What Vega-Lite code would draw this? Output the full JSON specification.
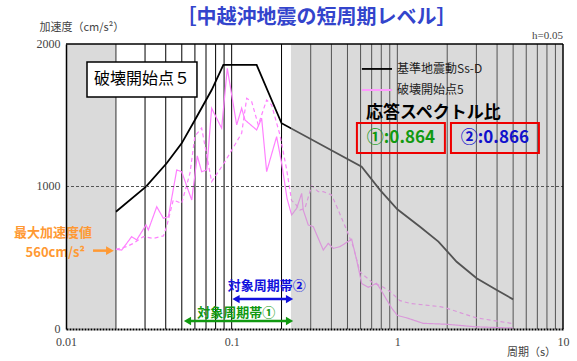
{
  "$schema": "https://vega.github.io/schema/vega-lite/v6.json",
  "width": 497,
  "height": 285,
  "autosize": "none",
  "padding": {"left": 66, "top": 44, "right": 14, "bottom": 32},
  "background": "white",
  "title": {"text": "［中越沖地震の短周期レベル］", "font": "Noto Sans CJK JP", "fontSize": 20, "fontWeight": "bold", "color": "#3344cc", "anchor": "middle", "frame": "group", "offset": -7, "dx": 2},
  "config": {"view": {"stroke": null}, "font": "Noto Sans CJK JP"},
  "data": {"values": [{"one": 1}]},
  "datasets": {
    "grid": [
      {"T": 0.02}, {"T": 0.03}, {"T": 0.04}, {"T": 0.05}, {"T": 0.06}, {"T": 0.07}, {"T": 0.08}, {"T": 0.09}, {"T": 0.1},
      {"T": 0.2}, {"T": 0.3}, {"T": 0.4}, {"T": 0.5}, {"T": 0.6}, {"T": 0.7}, {"T": 0.8}, {"T": 0.9}, {"T": 1},
      {"T": 2}, {"T": 3}, {"T": 4}, {"T": 5}, {"T": 6}, {"T": 7}, {"T": 8}, {"T": 9}
    ],
    "bands": [
      {"from": 0.01, "to": 0.02},
      {"from": 0.228, "to": 10}
    ],
    "spectra": [
      {"T": 0.02, "acc": 823, "comp": "Ss-D"}, {"T": 0.0304, "acc": 999, "comp": "Ss-D"}, {"T": 0.0405, "acc": 1163, "comp": "Ss-D"}, {"T": 0.0499, "acc": 1303, "comp": "Ss-D"}, {"T": 0.06, "acc": 1467, "comp": "Ss-D"}, {"T": 0.0757, "acc": 1677, "comp": "Ss-D"}, {"T": 0.0891, "acc": 1853, "comp": "Ss-D"}, {"T": 0.1415, "acc": 1853, "comp": "Ss-D"}, {"T": 0.2, "acc": 1444, "comp": "Ss-D"}, {"T": 0.609, "acc": 1139, "comp": "Ss-D"}, {"T": 0.785, "acc": 976, "comp": "Ss-D"}, {"T": 1.0, "acc": 840, "comp": "Ss-D"}, {"T": 1.37, "acc": 718, "comp": "Ss-D"}, {"T": 1.77, "acc": 613, "comp": "Ss-D"}, {"T": 2.28, "acc": 472, "comp": "Ss-D"}, {"T": 3.01, "acc": 356, "comp": "Ss-D"}, {"T": 3.98, "acc": 274, "comp": "Ss-D"}, {"T": 5.0, "acc": 208, "comp": "Ss-D"},

      {"T": 0.02, "acc": 559, "comp": "NS"}, {"T": 0.0217, "acc": 554, "comp": "NS"}, {"T": 0.0249, "acc": 648, "comp": "NS"}, {"T": 0.0267, "acc": 625, "comp": "NS"}, {"T": 0.0304, "acc": 730, "comp": "NS"}, {"T": 0.0314, "acc": 695, "comp": "NS"}, {"T": 0.0353, "acc": 858, "comp": "NS"}, {"T": 0.0387, "acc": 777, "comp": "NS"}, {"T": 0.0415, "acc": 788, "comp": "NS"}, {"T": 0.0466, "acc": 1116, "comp": "NS"}, {"T": 0.0499, "acc": 1104, "comp": "NS"}, {"T": 0.0574, "acc": 905, "comp": "NS"}, {"T": 0.062, "acc": 1215, "comp": "NS"}, {"T": 0.0659, "acc": 1104, "comp": "NS"}, {"T": 0.0707, "acc": 1116, "comp": "NS"}, {"T": 0.0757, "acc": 1549, "comp": "NS"}, {"T": 0.087, "acc": 1409, "comp": "NS"}, {"T": 0.0941, "acc": 1830, "comp": "NS"}, {"T": 0.1072, "acc": 1432, "comp": "NS"}, {"T": 0.1149, "acc": 1549, "comp": "NS"}, {"T": 0.1203, "acc": 1467, "comp": "NS"}, {"T": 0.1415, "acc": 1397, "comp": "NS"}, {"T": 0.1517, "acc": 1479, "comp": "NS"}, {"T": 0.1626, "acc": 1104, "comp": "NS"}, {"T": 0.1868, "acc": 1350, "comp": "NS"}, {"T": 0.2003, "acc": 1163, "comp": "NS"}, {"T": 0.216, "acc": 915, "comp": "NS"}, {"T": 0.2301, "acc": 800, "comp": "NS"}, {"T": 0.2468, "acc": 847, "comp": "NS"}, {"T": 0.2646, "acc": 952, "comp": "NS"}, {"T": 0.2704, "acc": 835, "comp": "NS"}, {"T": 0.2899, "acc": 730, "comp": "NS"}, {"T": 0.3109, "acc": 718, "comp": "NS"}, {"T": 0.3572, "acc": 554, "comp": "NS"}, {"T": 0.3828, "acc": 601, "comp": "NS"}, {"T": 0.4104, "acc": 566, "comp": "NS"}, {"T": 0.4505, "acc": 578, "comp": "NS"}, {"T": 0.53, "acc": 630, "comp": "NS"}, {"T": 0.5682, "acc": 484, "comp": "NS"}, {"T": 0.609, "acc": 320, "comp": "NS"}, {"T": 0.6675, "acc": 293, "comp": "NS"}, {"T": 0.7502, "acc": 321, "comp": "NS"}, {"T": 0.785, "acc": 286, "comp": "NS"}, {"T": 0.92, "acc": 150, "comp": "NS"}, {"T": 1.0, "acc": 95, "comp": "NS"}, {"T": 1.14, "acc": 78, "comp": "NS"}, {"T": 1.43, "acc": 40, "comp": "NS"}, {"T": 2.0, "acc": 33, "comp": "NS"}, {"T": 3.0, "acc": 15, "comp": "NS"}, {"T": 5.0, "acc": 7, "comp": "NS"},

      {"T": 0.02, "acc": 559, "comp": "EW"}, {"T": 0.0232, "acc": 578, "comp": "EW"}, {"T": 0.0255, "acc": 601, "comp": "EW"}, {"T": 0.0293, "acc": 648, "comp": "EW"}, {"T": 0.0336, "acc": 636, "comp": "EW"}, {"T": 0.0387, "acc": 653, "comp": "EW"}, {"T": 0.0405, "acc": 718, "comp": "EW"}, {"T": 0.0444, "acc": 905, "comp": "EW"}, {"T": 0.0499, "acc": 882, "comp": "EW"}, {"T": 0.056, "acc": 1093, "comp": "EW"}, {"T": 0.06, "acc": 1355, "comp": "EW"}, {"T": 0.0659, "acc": 1410, "comp": "EW"}, {"T": 0.0757, "acc": 1034, "comp": "EW"}, {"T": 0.0911, "acc": 1174, "comp": "EW"}, {"T": 0.1149, "acc": 1374, "comp": "EW"}, {"T": 0.1232, "acc": 1619, "comp": "EW"}, {"T": 0.1321, "acc": 1595, "comp": "EW"}, {"T": 0.1447, "acc": 1432, "comp": "EW"}, {"T": 0.1626, "acc": 1607, "comp": "EW"}, {"T": 0.1743, "acc": 1572, "comp": "EW"}, {"T": 0.1956, "acc": 1362, "comp": "EW"}, {"T": 0.2147, "acc": 1120, "comp": "EW"}, {"T": 0.2301, "acc": 900, "comp": "EW"}, {"T": 0.241, "acc": 882, "comp": "EW"}, {"T": 0.2584, "acc": 835, "comp": "EW"}, {"T": 0.2769, "acc": 847, "comp": "EW"}, {"T": 0.304, "acc": 1005, "comp": "EW"}, {"T": 0.3332, "acc": 964, "comp": "EW"}, {"T": 0.3572, "acc": 964, "comp": "EW"}, {"T": 0.4013, "acc": 940, "comp": "EW"}, {"T": 0.4398, "acc": 835, "comp": "EW"}, {"T": 0.4943, "acc": 695, "comp": "EW"}, {"T": 0.5418, "acc": 578, "comp": "EW"}, {"T": 0.5948, "acc": 400, "comp": "EW"}, {"T": 0.7155, "acc": 321, "comp": "EW"}, {"T": 0.804, "acc": 300, "comp": "EW"}, {"T": 0.9, "acc": 265, "comp": "EW"}, {"T": 1.037, "acc": 199, "comp": "EW"}, {"T": 1.191, "acc": 180, "comp": "EW"}, {"T": 1.81, "acc": 157, "comp": "EW"}, {"T": 2.0, "acc": 145, "comp": "EW"}, {"T": 2.39, "acc": 115, "comp": "EW"}, {"T": 3.0, "acc": 78, "comp": "EW"}, {"T": 5.0, "acc": 38, "comp": "EW"}
    ]
  },
  "layer": [
    {
      "data": {"name": "grid"},
      "mark": {"type": "rule", "color": "#000000", "strokeWidth": 1},
      "encoding": {
        "x": {"field": "T", "type": "quantitative", "scale": {"type": "log", "domain": [0.01, 10]},
          "axis": {"values": [0.01, 0.1, 1, 10], "format": "~g", "ticks": false, "grid": false, "domain": true, "domainColor": "#000000", "domainWidth": 2, "domainDash": [2, 1], "labelFont": "Liberation Serif", "labelFontSize": 12, "labelColor": "#444444", "labelPadding": 7, "labelFlush": false, "labelOverlap": false, "zindex": 1,
            "title": "周期（s）", "titleFont": "Noto Sans CJK JP", "titleFontSize": 11, "titleFontWeight": "normal", "titleColor": "#444444", "titleX": 465, "titleY": 23, "titleAlign": "center", "titleBaseline": "middle"}},
        "y": {"datum": 0, "scale": {"domain": [0, 2000], "nice": false},
          "axis": {"values": [0, 1000, 2000], "format": "d", "ticks": false, "grid": false, "domainColor": "#000000", "domainWidth": 1.5, "labelFont": "Liberation Serif", "labelFontSize": 12, "labelColor": "#444444", "labelPadding": 6, "labelOffset": -1, "zindex": 1,
            "title": "加速度（cm/s²）", "titleFont": "Noto Sans CJK JP", "titleFontSize": 11, "titleFontWeight": "normal", "titleColor": "#444444", "titleAngle": 0, "titleX": -27, "titleY": -17, "titleAlign": "left", "titleBaseline": "middle"}},
        "y2": {"datum": 2000}
      }
    },
    {
      "data": {"name": "spectra"},
      "transform": [{"filter": "datum.comp !== 'Ss-D'"}],
      "mark": {"type": "line", "color": "#ff80ff", "strokeWidth": 1.2},
      "encoding": {
        "x": {"field": "T", "type": "quantitative"},
        "y": {"field": "acc", "type": "quantitative"},
        "strokeDash": {"field": "comp", "type": "nominal", "scale": {"domain": ["NS", "EW"], "range": [[1, 0], [4, 3]]}, "legend": null}
      }
    },
    {
      "data": {"name": "spectra"},
      "transform": [{"filter": "datum.comp === 'Ss-D'"}],
      "mark": {"type": "line", "color": "#000000", "strokeWidth": 1.8},
      "encoding": {
        "x": {"field": "T", "type": "quantitative"},
        "y": {"field": "acc", "type": "quantitative"}
      }
    },
    {
      "data": {"name": "bands"},
      "mark": {"type": "rect", "color": "#b0b0b0", "opacity": 0.47},
      "encoding": {
        "x": {"field": "from", "type": "quantitative"},
        "x2": {"field": "to"},
        "y": {"datum": 0},
        "y2": {"datum": 2000}
      }
    },
    {
      "mark": {"type": "rule", "color": "#555555", "strokeWidth": 1.2, "strokeDash": [3, 2]},
      "encoding": {"x": {"datum": 0.01}, "x2": {"datum": 10}, "y": {"datum": 1000}}
    },
    {
      "mark": {"type": "rule", "color": "#000000", "strokeWidth": 1.5},
      "encoding": {"x": {"datum": 0.01}, "x2": {"datum": 10}, "y": {"datum": 2000}}
    },
    {
      "mark": {"type": "rule", "color": "#000000", "strokeWidth": 1.5},
      "encoding": {"x": {"datum": 10}, "y": {"datum": 0}, "y2": {"datum": 2000}}
    },
    {
      "mark": {"type": "rect", "fill": "#ffffff", "stroke": "#000000", "strokeWidth": 1.5},
      "encoding": {"x": {"datum": 0.01339}, "x2": {"datum": 0.06174}, "y": {"datum": 1628}, "y2": {"datum": 1874}}
    },
    {
      "mark": {"type": "text", "text": "破壊開始点５", "fontSize": 16, "color": "#000000", "align": "center", "baseline": "middle"},
      "encoding": {"x": {"datum": 0.02874}, "y": {"datum": 1751}}
    },
    {
      "mark": {"type": "rule", "color": "#000000", "strokeWidth": 1.8},
      "encoding": {"x": {"datum": 0.611}, "x2": {"datum": 0.928}, "y": {"datum": 1825}}
    },
    {
      "mark": {"type": "rule", "color": "#ff99ff", "strokeWidth": 2},
      "encoding": {"x": {"datum": 0.611}, "x2": {"datum": 0.928}, "y": {"datum": 1677}}
    },
    {
      "mark": {"type": "text", "text": "基準地震動Ss-D", "fontSize": 12, "color": "#222222", "align": "left", "baseline": "middle"},
      "encoding": {"x": {"datum": 0.995}, "y": {"datum": 1825}}
    },
    {
      "mark": {"type": "text", "text": "破壊開始点5", "fontSize": 12, "color": "#222222", "align": "left", "baseline": "middle"},
      "encoding": {"x": {"datum": 0.995}, "y": {"datum": 1677}}
    },
    {
      "mark": {"type": "text", "text": "応答スペクトル比", "fontSize": 17, "fontWeight": "bold", "color": "#000000", "align": "left", "baseline": "middle"},
      "encoding": {"x": {"datum": 0.6464}, "y": {"datum": 1516}}
    },
    {
      "mark": {"type": "rect", "fill": "transparent", "stroke": "#ee0000", "strokeWidth": 2},
      "encoding": {"x": {"datum": 0.5702}, "x2": {"datum": 1.937}, "y": {"datum": 1235}, "y2": {"datum": 1446}}
    },
    {
      "mark": {"type": "rect", "fill": "transparent", "stroke": "#ee0000", "strokeWidth": 2},
      "encoding": {"x": {"datum": 2.107}, "x2": {"datum": 7.156}, "y": {"datum": 1235}, "y2": {"datum": 1446}}
    },
    {
      "mark": {"type": "text", "text": "①:0.864", "fontSize": 17, "fontWeight": "bold", "color": "#119911", "align": "center", "baseline": "middle"},
      "encoding": {"x": {"datum": 1.051}, "y": {"datum": 1340}}
    },
    {
      "mark": {"type": "text", "text": "②:0.866", "fontSize": 17, "fontWeight": "bold", "color": "#1111cc", "align": "center", "baseline": "middle"},
      "encoding": {"x": {"datum": 3.88}, "y": {"datum": 1340}}
    },
    {
      "mark": {"type": "text", "text": "最大加速度値", "fontSize": 13, "fontWeight": "bold", "color": "#ff9933", "align": "right", "baseline": "middle"},
      "encoding": {"x": {"datum": 0.01435}, "y": {"datum": 672}}
    },
    {
      "mark": {"type": "text", "text": "560cm/s²", "fontSize": 13, "fontWeight": "bold", "color": "#ff9933", "align": "right", "baseline": "middle"},
      "encoding": {"x": {"datum": 0.01302}, "y": {"datum": 536}}
    },
    {
      "mark": {"type": "rule", "color": "#ff9933", "strokeWidth": 2.5},
      "encoding": {"x": {"datum": 0.01456}, "x2": {"datum": 0.01842}, "y": {"datum": 550}}
    },
    {
      "mark": {"type": "point", "shape": "triangle-right", "filled": true, "opacity": 1, "size": 80, "color": "#ff9933"},
      "encoding": {"x": {"datum": 0.01842}, "y": {"datum": 550}}
    },
    {
      "mark": {"type": "text", "text": "対象周期帯②", "fontSize": 13, "fontWeight": "bold", "color": "#1111dd", "align": "center", "baseline": "middle"},
      "encoding": {"x": {"datum": 0.163}, "y": {"datum": 305}}
    },
    {
      "mark": {"type": "rule", "color": "#1111dd", "strokeWidth": 2.5},
      "encoding": {"x": {"datum": 0.1062}, "x2": {"datum": 0.2236}, "y": {"datum": 210}}
    },
    {
      "mark": {"type": "point", "shape": "triangle-left", "filled": true, "opacity": 1, "size": 70, "color": "#1111dd"},
      "encoding": {"x": {"datum": 0.1062}, "y": {"datum": 210}}
    },
    {
      "mark": {"type": "point", "shape": "triangle-right", "filled": true, "opacity": 1, "size": 70, "color": "#1111dd"},
      "encoding": {"x": {"datum": 0.2236}, "y": {"datum": 210}}
    },
    {
      "mark": {"type": "text", "text": "対象周期帯①", "fontSize": 13, "fontWeight": "bold", "color": "#119911", "align": "center", "baseline": "middle"},
      "encoding": {"x": {"datum": 0.1066}, "y": {"datum": 114}}
    },
    {
      "mark": {"type": "rule", "color": "#119911", "strokeWidth": 2.5},
      "encoding": {"x": {"datum": 0.0541}, "x2": {"datum": 0.2236}, "y": {"datum": 56}}
    },
    {
      "mark": {"type": "point", "shape": "triangle-left", "filled": true, "opacity": 1, "size": 70, "color": "#119911"},
      "encoding": {"x": {"datum": 0.0541}, "y": {"datum": 56}}
    },
    {
      "mark": {"type": "point", "shape": "triangle-right", "filled": true, "opacity": 1, "size": 70, "color": "#119911"},
      "encoding": {"x": {"datum": 0.2236}, "y": {"datum": 56}}
    },
    {
      "mark": {"type": "text", "text": "h=0.05", "font": "Liberation Serif", "fontSize": 11, "color": "#444444", "align": "right", "baseline": "middle", "dy": -8},
      "encoding": {"x": {"datum": 10}, "y": {"datum": 2000}}
    }
  ]
}
